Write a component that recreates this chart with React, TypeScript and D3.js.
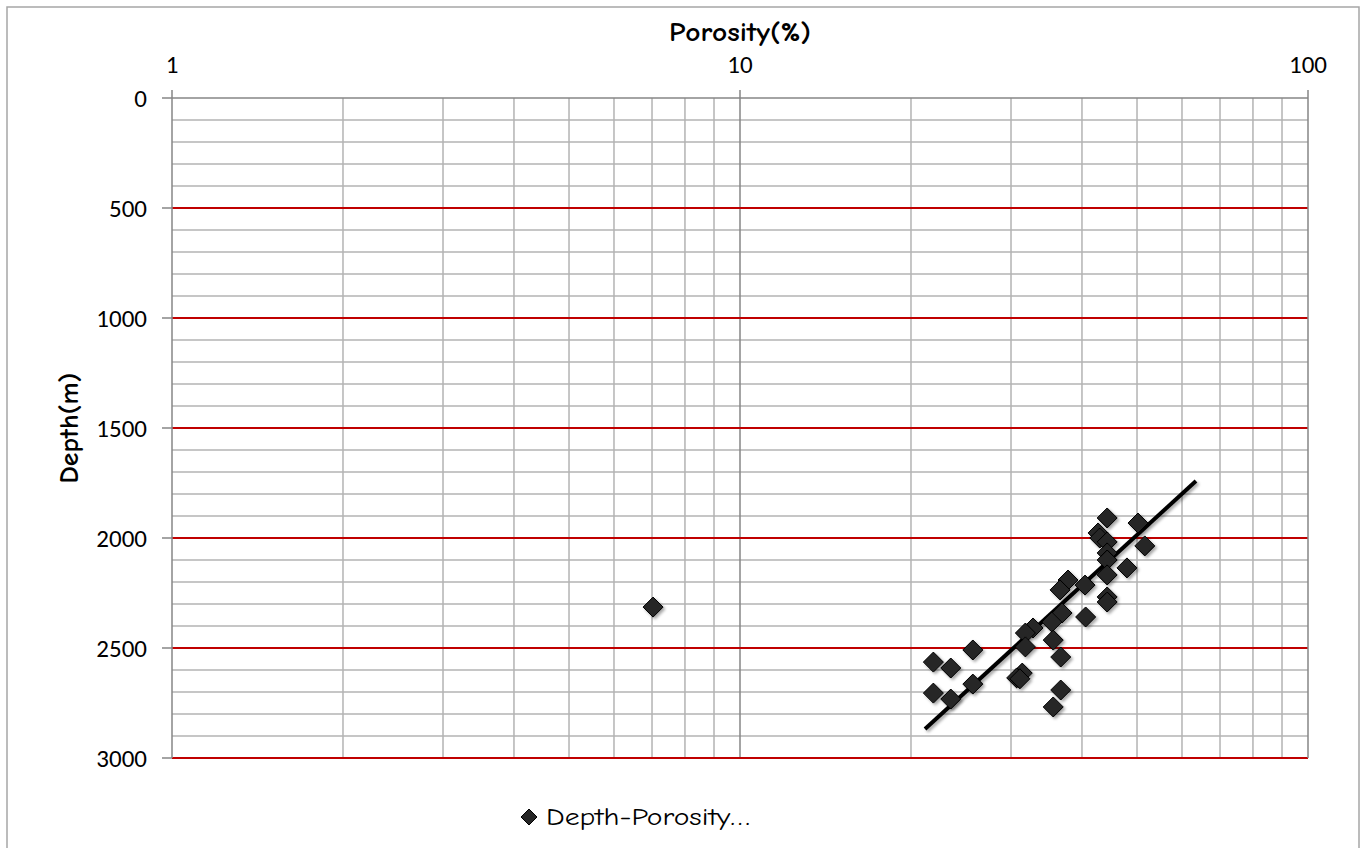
import React from "react";
import * as d3 from "d3";

const porosity: number[] = [
  44.3, 50.2, 42.7, 43.0, 44.3, 51.6, 44.3, 44.3, 48.0, 44.3,
  37.8, 40.5, 36.6, 44.3, 44.3, 7.03, 36.9, 40.6, 35.4, 32.8,
  31.8, 35.6, 31.8, 25.7, 36.7, 21.9, 23.5, 31.4, 30.7, 25.7,
  36.7, 21.9, 23.5, 35.6, 31.1,
];
const depth: number[] = [
  1909, 1932, 1977, 2000, 2018, 2036, 2068, 2100, 2136, 2168,
  2191, 2214, 2236, 2268, 2291, 2314, 2341, 2359, 2382, 2409,
  2432, 2464, 2495, 2509, 2541, 2564, 2591, 2614, 2636, 2664,
  2691, 2705, 2732, 2768, 2640,
];
const trendPorosity: number[] = [21.17, 63.5];
const trendDepth: number[] = [2868, 1741];
const xTickValues: number[] = [1, 10, 100];
const yTickValues: number[] = [0, 500, 1000, 1500, 2000, 2500, 3000];
const seriesName = "Depth-Porosity…";

const W = 1368;
const H = 848;
const left = 172, right = 1308, top = 98, bottom = 758;

export default function App() {
  const x = d3.scaleLog().domain([1, 100]).range([left, right]);
  const y = d3.scaleLinear().domain([0, 3000]).range([top, bottom]);

  const minorX: number[] = [];
  for (const dec of [1, 10]) for (let k = 2; k <= 9; k++) minorX.push(dec * k);
  const minorY = d3.range(100, 3001, 100).filter((v) => v % 500 !== 0);
  const majorY = yTickValues.filter((v) => v > 0);

  const diamond = (cx: number, cy: number, r: number) =>
    `M${cx},${cy - r}L${cx + r},${cy}L${cx},${cy + r}L${cx - r},${cy}Z`;

  const line = d3
    .line<number>()
    .x((_, i) => x(trendPorosity[i]))
    .y((_, i) => y(trendDepth[i]));

  const tickFont = "Carlito, 'Open Sans', 'Liberation Sans', sans-serif";
  const comic = "'Comic Sans MS', 'Comic Neue', 'Noto Sans', sans-serif";

  return (
    <div style={{ position: "fixed", left: 0, top: 0 }}>
      <svg width={W} height={H} style={{ display: "block", background: "#fff" }}>
        <defs>
          <filter id="sh" x="-20%" y="-20%" width="140%" height="140%">
            <feDropShadow dx="2" dy="2" stdDeviation="1.5" floodColor="#000" floodOpacity="0.35" />
          </filter>
        </defs>
        <rect x={7} y={7} width={1352} height={H + 10} fill="#fff" stroke="#a6a6a6" strokeWidth={1.5} />

        {minorY.map((v) => (
          <line key={"my" + v} x1={left} x2={right} y1={y(v)} y2={y(v)} stroke="#b3b3b3" strokeWidth={1.5} />
        ))}
        {minorX.map((v) => (
          <line key={"mx" + v} x1={x(v)} x2={x(v)} y1={top} y2={bottom} stroke="#b3b3b3" strokeWidth={1.5} />
        ))}
        <line x1={x(10)} x2={x(10)} y1={top} y2={bottom} stroke="#868686" strokeWidth={1.5} />
        {majorY.map((v) => (
          <line key={"My" + v} x1={left} x2={right} y1={y(v)} y2={y(v)} stroke="#c00000" strokeWidth={2} />
        ))}

        <line x1={left} x2={left} y1={top - 8} y2={bottom} stroke="#868686" strokeWidth={1.5} />
        <line x1={left - 10} x2={right} y1={top} y2={top} stroke="#868686" strokeWidth={1.5} />
        <line x1={right} x2={right} y1={top - 8} y2={bottom} stroke="#868686" strokeWidth={1.5} />
        <line x1={x(10)} x2={x(10)} y1={top - 8} y2={top} stroke="#868686" strokeWidth={1.5} />
        {majorY.map((v) => (
          <line key={"ty" + v} x1={left - 10} x2={left} y1={y(v)} y2={y(v)} stroke="#868686" strokeWidth={1.5} />
        ))}

        {yTickValues.map((v) => (
          <text key={"yl" + v} x={147} y={y(v) + 8.5} textAnchor="end" fontFamily={tickFont} fontSize={25} fill="#000">
            {v}
          </text>
        ))}
        {xTickValues.map((v) => (
          <text key={"xl" + v} x={x(v)} y={73} textAnchor="middle" fontFamily={tickFont} fontSize={25} fill="#000">
            {v}
          </text>
        ))}

        <text x={740} y={41} textAnchor="middle" fontFamily={comic} fontWeight="bold" fontSize={26} fill="#000"
          textLength={142} lengthAdjust="spacingAndGlyphs">
          Porosity(%)
        </text>
        <text
          transform={`translate(78,428) rotate(-90)`}
          textAnchor="middle"
          fontFamily={comic}
          fontWeight="bold"
          fontSize={26}
          fill="#000"
          textLength={111}
          lengthAdjust="spacingAndGlyphs"
        >
          Depth(m)
        </text>

        <path d={line(trendPorosity) || ""} stroke="#000" strokeWidth={4} fill="none" filter="url(#sh)" />

        <g filter="url(#sh)">
          {porosity.map((p, i) => (
            <path key={"p" + i} d={diamond(x(p), y(depth[i]), 10)} fill="#262626" stroke="#000" strokeWidth={1} />
          ))}
        </g>

        <path d={diamond(529, 817, 8)} fill="#262626" stroke="#000" strokeWidth={1} />
        <text x={546} y={825} fontFamily={comic} fontSize={24} fill="#000" textLength={204} lengthAdjust="spacingAndGlyphs">
          {seriesName}
        </text>
      </svg>
    </div>
  );
}
